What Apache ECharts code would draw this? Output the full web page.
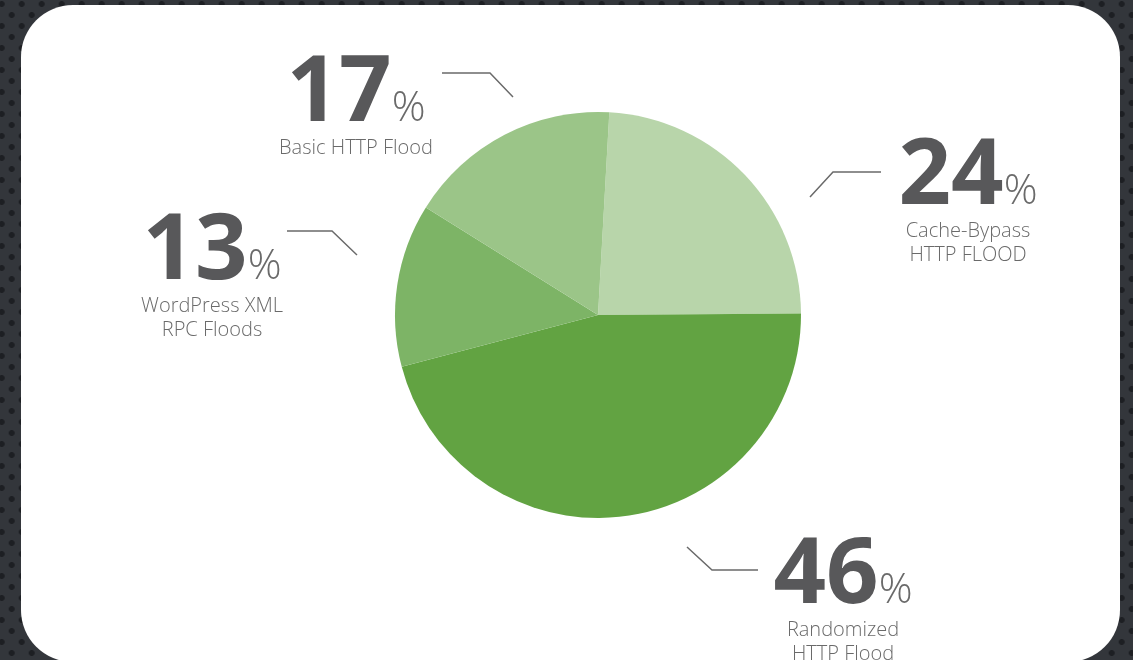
<!DOCTYPE html>
<html>
<head>
<meta charset="utf-8">
<script src="https://cdn.jsdelivr.net/npm/echarts@6/dist/echarts.min.js"></script>
<style>
  body {
    margin: 0;
    width: 1133px;
    height: 660px;
    overflow: hidden;
    background-color: #33363b;
    background-image:
      radial-gradient(circle, #1d1f23 2.6px, transparent 3.3px),
      radial-gradient(circle, #1d1f23 2.6px, transparent 3.3px);
    background-size: 20px 22px;
    background-position: 1.7px 4px, 11.7px 15px;
  }
  .panel {
    position: absolute;
    left: 21px;
    top: 5px;
    width: 1099px;
    height: 657px;
    border-radius: 52px;
    background: #fff;
  }
  #chart {
    position: absolute;
    left: 0;
    top: 0;
    width: 1133px;
    height: 660px;
  }
</style>
</head>
<body>
<div class="panel"></div>
<div id="chart"></div>
<script>
// 攻击类型占比，顺时针从 24% 开始
const names = ['Cache-Bypass\nHTTP FLOOD', 'Randomized\nHTTP Flood', 'WordPress XML\nRPC Floods', 'Basic HTTP Flood']
const values = [24, 46, 13, 17]
const colors = ['#b8d5aa', '#62a342', '#7db466', '#9bc588']

// 标签位置（页面坐标）：文字中心 x、数字顶部 y、引线折点
const labelSpots = [
  { cx: 968, top: 139, line: [[810, 197], [833, 172], [881, 172]] },
  { cx: 843, top: 538, line: [[687, 547], [712, 570], [758, 570]] },
  { cx: 212, top: 214, line: [[357, 255], [332, 231], [287, 231]] },
  { cx: 356, top: 56, line: [[513, 97], [490, 73], [442, 73]] }
]

const chart = echarts.init(document.getElementById('chart'))

const option = {
  animation: false,
  series: [
    {
      type: 'pie',
      center: [598, 315],
      radius: 203,
      startAngle: 86.8,
      clockwise: true,
      avoidLabelOverlap: false,
      emphasis: { disabled: true },
      itemStyle: { borderWidth: 0 },
      data: values.map((v, i) => ({
        name: names[i],
        value: v,
        itemStyle: { color: colors[i] }
      })),
      label: {
        show: true,
        position: 'outside',
        formatter: (p) => {
          const lines = p.name.split('\n').map((s) => '{name|' + s + '}')
          return '{num|' + p.value + '}{pct|%}\n' + lines.join('\n')
        },
        rich: {
          num: {
            fontFamily: 'Open Sans',
            fontSize: 92,
            fontWeight: 'bold',
            color: '#58585a',
            lineHeight: 88,
            verticalAlign: 'top'
          },
          pct: {
            fontFamily: 'Open Sans',
            fontSize: 42,
            fontWeight: 300,
            color: '#6a6a6a',
            lineHeight: 40,
            padding: [40, 0, 0, 0],
            verticalAlign: 'top'
          },
          name: {
            fontFamily: 'Open Sans',
            fontSize: 20,
            fontWeight: 300,
            color: '#6a6a6a',
            lineHeight: 24
          }
        }
      },
      labelLine: {
        show: true,
        lineStyle: { color: '#6a6a6a', width: 1.5 }
      },
      labelLayout: (params) => {
        const spot = labelSpots[params.dataIndex]
        return {
          x: spot.cx,
          y: spot.top - 7.5,
          align: 'center',
          verticalAlign: 'top',
          labelLinePoints: spot.line
        }
      }
    }
  ]
}

chart.setOption(option)
</script>
</body>
</html>
